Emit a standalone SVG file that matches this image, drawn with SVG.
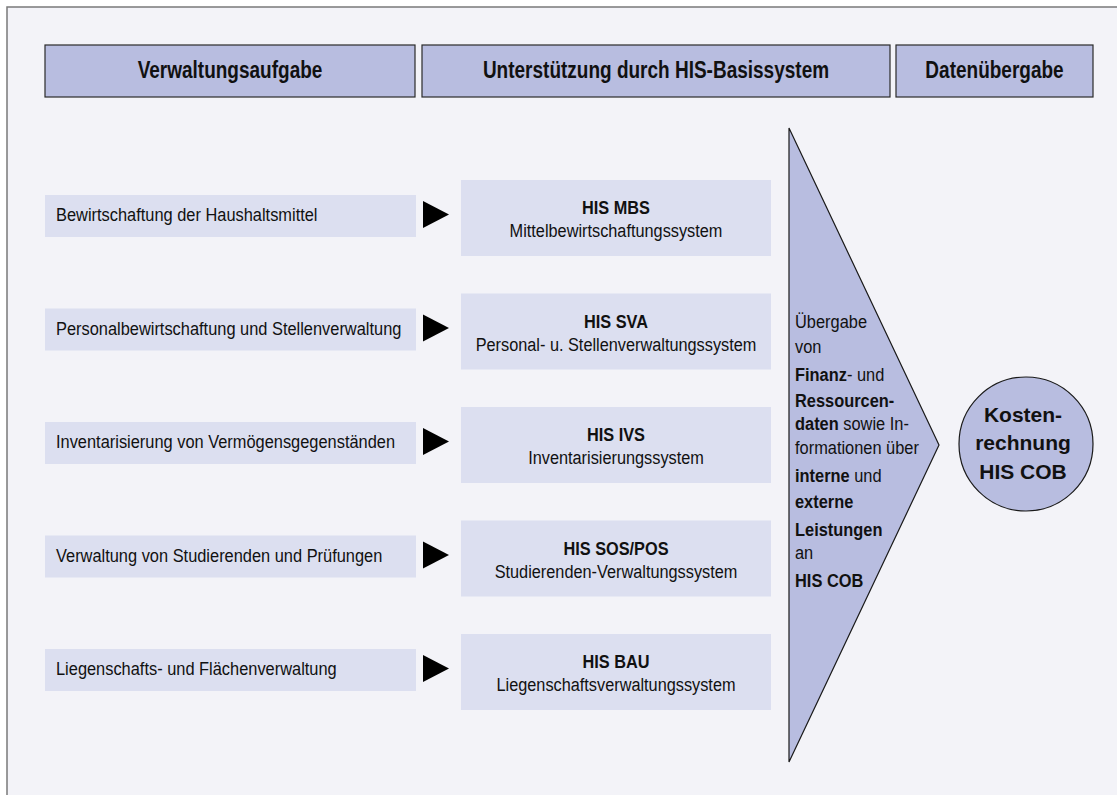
<svg xmlns="http://www.w3.org/2000/svg" width="1117" height="795" viewBox="0 0 1117 795">
<style>
.bg{fill:#f3f3f8;stroke:#7a7a7a;stroke-width:1.5}
.hdr{fill:#b8bde0;stroke:#2a2a2a;stroke-width:1.2}
.lbox{fill:#dcdff0;stroke:none}
.big{fill:#b8bde0;stroke:#1a1a1a;stroke-width:1.2}
.ht{font-family:"Liberation Sans",Arial,sans-serif;font-size:19px;font-weight:bold;fill:#111;text-anchor:middle}
.lt{font-family:"Liberation Sans",Arial,sans-serif;font-size:16.4px;fill:#111}
.rt{font-family:"Liberation Sans",Arial,sans-serif;font-size:16.3px;fill:#111;text-anchor:middle}
.b{font-weight:bold}
.ct{font-family:"Liberation Sans",Arial,sans-serif;font-size:21px;font-weight:bold;fill:#111;text-anchor:middle}
.arr{fill:#000}
</style>
<rect width="1117" height="795" fill="#ffffff"/>
<rect class="bg" x="7" y="7" width="1120" height="800"/>

<g id="header-verwaltungsaufgabe">
<rect class="hdr" x="45" y="45" width="370" height="52"/>
<text class="ht" transform="translate(230,78) scale(1,1.22)">Verwaltungsaufgabe</text>
</g>
<g id="header-unterstuetzung">
<rect class="hdr" x="422" y="45" width="468" height="52"/>
<text class="ht" transform="translate(656,78) scale(1,1.22)">Unterstützung durch HIS-Basissystem</text>
</g>
<g id="header-datenuebergabe">
<rect class="hdr" x="896" y="45" width="197" height="52"/>
<text class="ht" transform="translate(994.5,78) scale(1,1.22)">Datenübergabe</text>
</g>

<g id="task-1">
<rect class="lbox" x="45" y="195" width="371" height="42"/>
<text class="lt" transform="translate(56,221) scale(1,1.14)">Bewirtschaftung der Haushaltsmittel</text>
</g>
<g id="task-2">
<rect class="lbox" x="45" y="308.5" width="371" height="42"/>
<text class="lt" transform="translate(56,334.5) scale(1,1.14)">Personalbewirtschaftung und Stellenverwaltung</text>
</g>
<g id="task-3">
<rect class="lbox" x="45" y="422" width="371" height="42"/>
<text class="lt" transform="translate(56,448) scale(1,1.14)">Inventarisierung von Vermögensgegenständen</text>
</g>
<g id="task-4">
<rect class="lbox" x="45" y="535.5" width="371" height="42"/>
<text class="lt" transform="translate(56,561.5) scale(1,1.14)">Verwaltung von Studierenden und Prüfungen</text>
</g>
<g id="task-5">
<rect class="lbox" x="45" y="649" width="371" height="42"/>
<text class="lt" transform="translate(56,675) scale(1,1.14)">Liegenschafts- und Flächenverwaltung</text>
</g>

<g id="sys-mbs">
<rect class="lbox" x="461" y="180" width="310" height="76"/>
<text class="rt b" transform="translate(616,214) scale(1,1.14)">HIS MBS</text>
<text class="rt" transform="translate(616,237) scale(1,1.14)">Mittelbewirtschaftungssystem</text>
</g>
<g id="sys-sva">
<rect class="lbox" x="461" y="293.5" width="310" height="76"/>
<text class="rt b" transform="translate(616,327.5) scale(1,1.14)">HIS SVA</text>
<text class="rt" transform="translate(616,350.5) scale(1,1.14)">Personal- u. Stellenverwaltungssystem</text>
</g>
<g id="sys-ivs">
<rect class="lbox" x="461" y="407" width="310" height="76"/>
<text class="rt b" transform="translate(616,441) scale(1,1.14)">HIS IVS</text>
<text class="rt" transform="translate(616,464) scale(1,1.14)">Inventarisierungssystem</text>
</g>
<g id="sys-sospos">
<rect class="lbox" x="461" y="520.5" width="310" height="76"/>
<text class="rt b" transform="translate(616,554.5) scale(1,1.14)">HIS SOS/POS</text>
<text class="rt" transform="translate(616,577.5) scale(1,1.14)">Studierenden-Verwaltungssystem</text>
</g>
<g id="sys-bau">
<rect class="lbox" x="461" y="634" width="310" height="76"/>
<text class="rt b" transform="translate(616,668) scale(1,1.14)">HIS BAU</text>
<text class="rt" transform="translate(616,691) scale(1,1.14)">Liegenschaftsverwaltungssystem</text>
</g>

<g id="connectors">
<polygon class="arr" points="423,201 449,214.5 423,228"/>
<polygon class="arr" points="423,314.5 449,328 423,341.5"/>
<polygon class="arr" points="423,428 449,441.5 423,455"/>
<polygon class="arr" points="423,541.5 449,555 423,568.5"/>
<polygon class="arr" points="423,655 449,668.5 423,682"/>
</g>

<g id="uebergabe">
<polygon class="big" points="789,128 939,445 789,762"/>
<text class="lt" transform="translate(795,328) scale(1,1.14)">Übergabe</text>
<text class="lt" transform="translate(795,353) scale(1,1.14)">von</text>
<text class="lt" transform="translate(795,381) scale(1,1.14)"><tspan class="b">Finanz</tspan>- und</text>
<text class="lt b" transform="translate(795,407) scale(1,1.14)">Ressourcen-</text>
<text class="lt" transform="translate(795,430) scale(1,1.14)"><tspan class="b">daten</tspan> sowie In-</text>
<text class="lt" transform="translate(795,454) scale(1,1.14)">formationen über</text>
<text class="lt" transform="translate(795,482) scale(1,1.14)"><tspan class="b">interne</tspan> und</text>
<text class="lt b" transform="translate(795,508) scale(1,1.14)">externe</text>
<text class="lt b" transform="translate(795,536) scale(1,1.14)">Leistungen</text>
<text class="lt" transform="translate(795,559) scale(1,1.14)">an</text>
<text class="lt b" transform="translate(795,587) scale(1,1.14)">HIS COB</text>
</g>

<g id="kostenrechnung">
<circle class="big" cx="1026" cy="444" r="67"/>
<text class="ct" x="1023" y="422">Kosten-</text>
<text class="ct" x="1023" y="450">rechnung</text>
<text class="ct" x="1023" y="479">HIS COB</text>
</g>
</svg>
